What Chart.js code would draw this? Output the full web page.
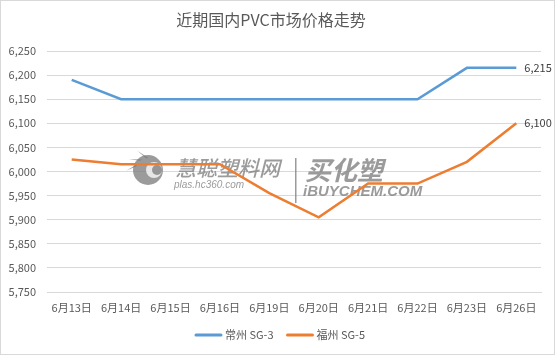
<!DOCTYPE html>
<html>
<head>
<meta charset="utf-8">
<script src="https://cdn.jsdelivr.net/npm/chart.js@4"></script>
<style>
  html, body { margin: 0; padding: 0; background: #fff; }
  #wrap { width: 553px; height: 353px; border: 1px solid #d9d9d9; position: relative; }
</style>
</head>
<body>
<div id="wrap"><canvas id="pvcChart" width="553" height="353"></canvas></div>
<script>
const days = ['6月13日', '6月14日', '6月15日', '6月16日', '6月19日', '6月20日', '6月21日', '6月22日', '6月23日', '6月26日'];
const changzhou = [6190, 6150, 6150, 6150, 6150, 6150, 6150, 6150, 6215, 6215];
const fuzhou = [6025, 6015, 6015, 6015, 5955, 5905, 5975, 5975, 6020, 6100];
const yTicks = [5750, 5800, 5850, 5900, 5950, 6000, 6050, 6100, 6150, 6200, 6250];

const fmt = v => v.toLocaleString('en-US');
const font = '"Noto Sans CJK SC", "Noto Sans", sans-serif';

// last-point value labels
const endLabels = {
    id: 'endLabels',
    afterDatasetsDraw(chart) {
        const c = chart.ctx;
        c.save();
        c.font = '11px ' + font;
        c.fillStyle = '#404040';
        c.textBaseline = 'middle';
        chart.data.datasets.forEach((ds, i) => {
            const pts = chart.getDatasetMeta(i).data;
            const p = pts[pts.length - 1];
            c.fillText(fmt(ds.data[ds.data.length - 1]), p.x + 8, p.y);
        });
        c.restore();
    }
};

// bottom legend: short thick line + series name
const lineLegend = {
    id: 'lineLegend',
    afterDraw(chart) {
        const c = chart.ctx;
        const ds = chart.data.datasets;
        c.save();
        c.font = '11px ' + font;
        c.textBaseline = 'middle';
        const widths = ds.map(d => 27 + 3 + c.measureText(d.label).width);
        const total = widths.reduce((a, b) => a + b, 0) + 13 * (ds.length - 1);
        let x = 279 - total / 2;
        const y = 334;
        ds.forEach((d, i) => {
            c.strokeStyle = d.borderColor;
            c.lineWidth = 3;
            c.lineCap = 'round';
            c.beginPath();
            c.moveTo(x + 1, y);
            c.lineTo(x + 26, y);
            c.stroke();
            c.fillStyle = '#595959';
            c.fillText(d.label, x + 30, y);
            x += widths[i] + 13;
        });
        c.restore();
    }
};

// faint site watermark behind the lines
const watermark = {
    id: 'watermark',
    beforeDatasetsDraw(chart) {
        const c = chart.ctx;
        c.save();
        c.globalAlpha = 0.75;
        c.fillStyle = '#7a7a7a';
        // gear-ish logo
        for (let k = 0; k < 3; k++) {
            const a = -Math.PI * 0.9 + k * 0.55;
            c.beginPath();
            c.moveTo(147 + Math.cos(a) * 12, 169 + Math.sin(a) * 12);
            c.lineTo(147 + Math.cos(a - 0.35) * 22, 169 + Math.sin(a - 0.35) * 22);
            c.lineTo(147 + Math.cos(a + 0.2) * 12, 169 + Math.sin(a + 0.2) * 12);
            c.fill();
        }
        c.beginPath();
        c.arc(147, 169, 15, 0, Math.PI * 2);
        c.fill();
        c.fillStyle = '#fff';
        c.beginPath();
        c.arc(153, 169, 8, 0, Math.PI * 2);
        c.fill();
        c.fillStyle = '#7a7a7a';
        c.beginPath();
        c.arc(156, 169, 5, 0, Math.PI * 2);
        c.fill();
        c.font = 'italic 500 21px ' + font;
        c.fillText('慧聪塑料网', 174, 175);
        c.font = 'italic 10px "Liberation Sans", sans-serif';
        c.fillText('plas.hc360.com', 173, 187);
        c.fillRect(294, 157, 1.5, 45);
        c.font = 'italic bold 26px ' + font;
        c.fillText('买化塑', 304, 179);
        c.font = 'italic bold 15px "Liberation Sans", sans-serif';
        c.fillText('iBUYCHEM.COM', 302, 195);
        c.restore();
    }
};

new Chart(document.getElementById('pvcChart'), {
    type: 'line',
    data: {
        labels: days,
        datasets: [{
            label: '常州 SG-3',
            data: changzhou,
            borderColor: '#5B9BD5',
            backgroundColor: '#5B9BD5',
            borderWidth: 2.5,
            pointRadius: 0
        }, {
            label: '福州 SG-5',
            data: fuzhou,
            borderColor: '#ED7D31',
            backgroundColor: '#ED7D31',
            borderWidth: 2.5,
            pointRadius: 0
        }]
    },
    options: {
        responsive: false,
        animation: false,
        layout: { padding: { left: 0, right: 13, top: 0, bottom: 32 } },
        plugins: {
            title: {
                display: true,
                text: '近期国内PVC市场价格走势',
                color: '#595959',
                font: { family: font, size: 16, weight: 'normal' },
                padding: { top: 9, bottom: 21.8 }
            },
            legend: { display: false },
            tooltip: { enabled: false }
        },
        scales: {
            x: {
                offset: true,
                afterFit(axis) { axis.height = 30; },
                grid: { display: false, drawTicks: false },
                border: { color: '#d9d9d9' },
                ticks: {
                    color: '#595959',
                    font: { family: font, size: 11 },
                    maxRotation: 0,
                    autoSkip: false,
                    padding: 9
                }
            },
            y: {
                min: 5750,
                max: 6250,
                afterFit(axis) { axis.width = 46; },
                afterBuildTicks(axis) { axis.ticks = yTicks.map(v => ({ value: v })); },
                grid: { color: '#d9d9d9', drawTicks: false },
                border: { display: false },
                ticks: {
                    color: '#595959',
                    font: { family: font, size: 11 },
                    padding: 11,
                    callback: v => fmt(v)
                }
            }
        }
    },
    plugins: [watermark, endLabels, lineLegend]
});
</script>
</body>
</html>
